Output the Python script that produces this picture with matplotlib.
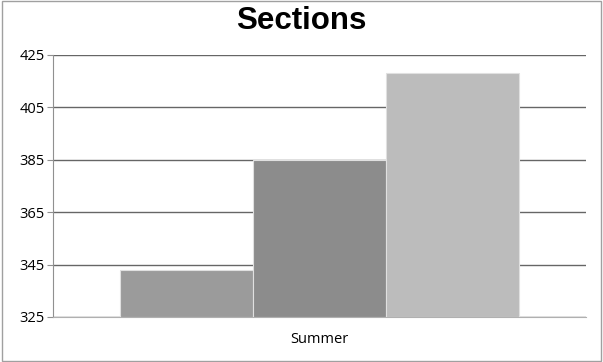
import matplotlib
matplotlib.use("Agg")
import matplotlib.pyplot as plt
import numpy as np

# data
categories = ["Summer"]
series_values = [343, 385, 418]
series_colors = ["#9b9b9b", "#8c8c8c", "#bcbcbc"]
y_ticks = [325, 345, 365, 385, 405, 425]

fig = plt.figure(figsize=(6.03, 3.62), dpi=100)
ax = fig.add_axes([53 / 603, 1 - 317 / 362, 533 / 603, 262 / 362])

# thin grey border round the whole picture
fig.patches.append(plt.Rectangle((0.004, 0.003), 0.992, 0.994, transform=fig.transFigure,
                                 fill=False, edgecolor="#a0a0a0", linewidth=1))

width = 0.25
x = np.arange(len(categories))
n = len(series_values)
for i, (v, c) in enumerate(zip(series_values, series_colors)):
    offs = (i - (n - 1) / 2) * width
    ax.bar(x + offs, v - y_ticks[0], width, bottom=y_ticks[0], color=c,
           edgecolor="#e0e0e0", linewidth=0.8, zorder=3)

ax.set_xlim(-0.5, 0.5)
ax.set_ylim(y_ticks[0], y_ticks[-1])
ax.set_yticks(y_ticks)
ax.set_xticks(x)
ax.set_xticklabels(categories)

ax.yaxis.grid(True, color="#666666", linewidth=1, zorder=0)
ax.set_axisbelow(True)
for s in ["top", "right"]:
    ax.spines[s].set_visible(False)
ax.spines["left"].set_color("#909090")
ax.spines["bottom"].set_color("#b0b0b0")
ax.tick_params(axis="y", length=4, color="#909090", labelsize=10.5, pad=2)
ax.tick_params(axis="x", length=0, labelsize=10.5, pad=11)
for lbl in ax.get_yticklabels() + ax.get_xticklabels():
    lbl.set_family("Open Sans")

fig.text(0.5, 0.943, "Sections", ha="center", va="center",
         fontsize=22.5, fontweight="bold", family="Liberation Sans")

fig.savefig("out.png", dpi=100)
